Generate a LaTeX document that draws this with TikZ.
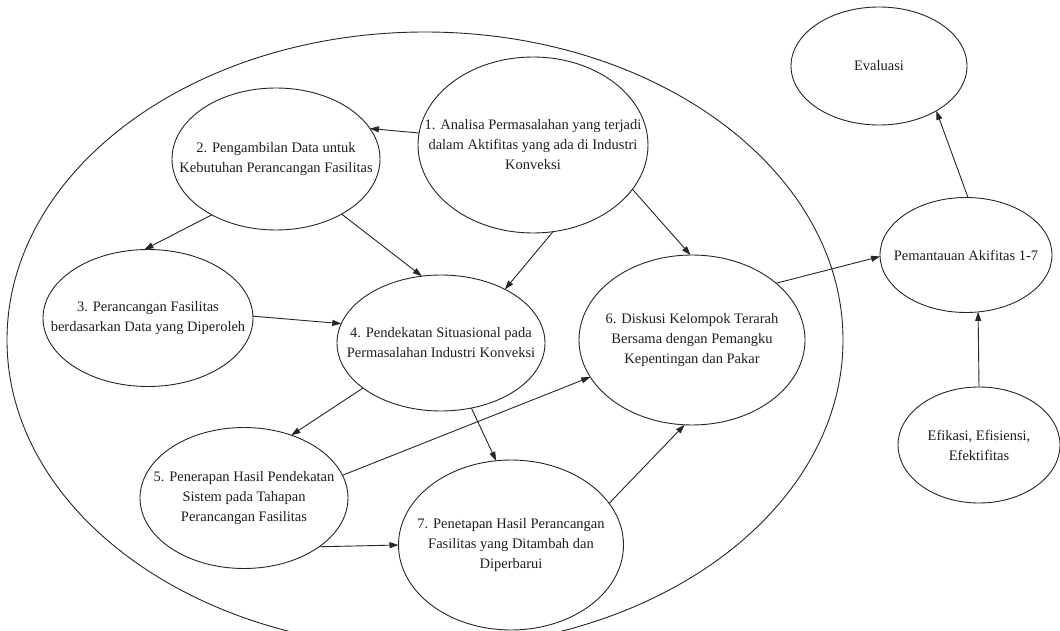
\documentclass[tikz,border=0pt]{standalone}
\usepackage{fontspec}
\setmainfont{Liberation Serif}
\usetikzlibrary{shapes.geometric,arrows.meta}
\begin{document}
\begin{tikzpicture}[x=1pt,y=-1pt,
  el/.style={ellipse, draw=black!85, line width=0.9pt, inner sep=0pt, outer sep=0pt},
  txt/.style={align=center, font=\fontsize{14.5}{20}\selectfont, text=black!88, inner sep=0pt},
  arr/.style={draw=black!85, line width=0.9pt, -{Triangle[length=9pt,width=6pt]}},
  boundary/.style={draw=black!85, line width=0.9pt}
]
\path[use as bounding box, clip] (0,0) rectangle (1060,631);
\fill[white] (0,0) rectangle (1060,631);
\draw[boundary] (425,340) ellipse [x radius=418pt, y radius=308pt];

\node[el, minimum width=230pt, minimum height=176pt] (n1) at (533,145) {};
\node[txt] (t1) at (n1) {1. Analisa Permasalahan yang terjadi\\dalam Aktifitas yang ada di Industri\\Konveksi};
\node[el, minimum width=208pt, minimum height=142pt] (n2) at (276,159) {};
\node[txt] (t2) at (n2) {2. Pengambilan Data untuk\\Kebutuhan Perancangan Fasilitas};
\node[el, minimum width=210pt, minimum height=137pt] (n3) at (148,318) {};
\node[txt] (t3) at (n3) {3. Perancangan Fasilitas\\berdasarkan Data yang Diperoleh};
\node[el, minimum width=208pt, minimum height=136pt] (n4) at (441,343) {};
\node[txt] (t4) at (n4) {4. Pendekatan Situasional pada\\Permasalahan Industri Konveksi};
\node[el, minimum width=208pt, minimum height=141pt] (n5) at (244,498) {};
\node[txt] (t5) at (n5) {5. Penerapan Hasil Pendekatan\\Sistem pada Tahapan\\Perancangan Fasilitas};
\node[el, minimum width=226pt, minimum height=170pt] (n6) at (692,340) {};
\node[txt] (t6) at (n6) {6. Diskusi Kelompok Terarah\\Bersama dengan Pemangku\\Kepentingan dan Pakar};
\node[el, minimum width=225pt, minimum height=170pt] (n7) at (511,545) {};
\node[txt] (t7) at (n7) {7. Penetapan Hasil Perancangan\\Fasilitas yang Ditambah dan\\Diperbarui};
\node[el, minimum width=176pt, minimum height=118pt] (ne) at (879,66) {};
\node[txt] (te) at (ne) {Evaluasi};
\node[el, minimum width=172pt, minimum height=115pt] (np) at (966,255) {};
\node[txt] (tp) at (np) {Pemantauan Akifitas 1-7};
\node[el, minimum width=162pt, minimum height=116pt] (nf) at (979,445) {};
\node[txt] (tf) at (nf) {Efikasi, Efisiensi,\\Efektifitas};

\draw[arr] (n1.174) -- (n2.18.8);
\draw[arr] (n1.283) -- (n4.40.3);
\draw[arr] (n1.336) -- (n6.91.3);
\draw[arr] (n2.221) -- (n3.93);
\draw[arr] (n2.320) -- (n4.106.6);
\draw[arr] (n3.1.7) -- (n4.169.5);
\draw[arr] (n4.210.4) -- (n5.53.6);
\draw[arr] (n4.295.5) -- (n7.100.4);
\draw[arr] (n5.13.6) -- (n6.200.4);
\draw[arr] (n5.327.2) -- (n7.180);
\draw[arr] (n7.23.5) -- (n6.265.3);
\draw[arr] (n6.34.5) -- (np.181.3);
\draw[arr] (np.88) -- (ne.322);
\draw[arr] (nf.90) -- (np.282.8);
\end{tikzpicture}
\end{document}
